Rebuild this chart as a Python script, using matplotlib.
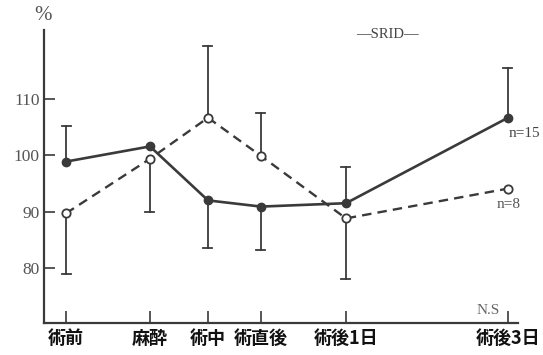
import numpy as np
import matplotlib
matplotlib.use("Agg")
import matplotlib.pyplot as plt

# Time points
categories = ["術前", "麻酔", "術中", "術直後", "術後1日", "術後3日"]

# n=15 group (solid line, filled markers)
solid_mean = [98.9, 101.6, 92.0, 90.9, 91.5, 106.7]
solid_sd_up = [6.3, 0, 0, 0, 6.4, 8.8]
solid_sd_down = [0, 0, 8.5, 7.8, 0, 0]

# n=8 group (dashed line, open markers)
dashed_mean = [89.7, 99.4, 106.7, 99.9, 88.8, 94.1]
dashed_sd_up = [0, 0, 12.8, 7.6, 0, 0]
dashed_sd_down = [10.8, 9.4, 0, 0, 10.8, 0]

yticks = [80, 90, 100, 110]

# horizontal placement of the time points (uneven time spacing)
xpos = np.array([66, 150, 208, 261, 346, 508])

W, H = 543, 355
fig = plt.figure(figsize=(W / 100, H / 100), dpi=100)
ax = fig.add_axes([44 / W, (H - 323) / H, (518 - 44) / W, (323 - 30) / H])
ax.set_xlim(44, 518)
ax.set_ylim(70.2, 122.3)

ink = "#3a3a3a"
serif = "Liberation Serif"
cjk = ["Noto Sans CJK JP", "DejaVu Sans"]


def bars(mean, up, down):
    for x, m, u, d in zip(xpos, mean, up, down):
        for e in (u, -d):
            if e:
                ax.plot([x, x], [m, m + e], color=ink, lw=1.3, zorder=2)
                ax.plot([x - 4.5, x + 4.5], [m + e, m + e], color=ink, lw=1.3, zorder=2)


bars(solid_mean, solid_sd_up, solid_sd_down)
bars(dashed_mean, dashed_sd_up, dashed_sd_down)

ax.plot(xpos, dashed_mean, ls=(0, (4, 2.6)), color=ink, lw=1.7,
        marker="o", ms=6, mfc="white", mec=ink, mew=1.3, zorder=3)
ax.plot(xpos, solid_mean, ls="-", color=ink, lw=1.9,
        marker="o", ms=6, mfc=ink, mec=ink, zorder=4)

for s in ("top", "right"):
    ax.spines[s].set_visible(False)
for s in ("left", "bottom"):
    ax.spines[s].set_color(ink)
    ax.spines[s].set_linewidth(1.6)

ax.set_yticks(yticks)
ax.set_yticklabels([str(v) for v in yticks], fontfamily=serif, fontsize=12.5, color="#555555")
ax.tick_params(axis="y", direction="in", length=8, width=1.2, color=ink, pad=3)

ax.set_xticks(xpos)
ax.set_xticklabels(categories, fontfamily=cjk, fontsize=13, fontweight="bold", color="#111111")
ax.tick_params(axis="x", direction="in", length=9, width=1.2, color=ink, pad=4)

fig.text(43 / W, 1 - 16 / H, "%", fontfamily=serif, fontsize=15, color="#555555", ha="center", va="center")
fig.text(387 / W, 1 - 34 / H, "—SRID—", fontfamily=serif, fontsize=10.5, color="#444444", ha="center", va="center")
fig.text(509 / W, 1 - 134 / H, "n=15", fontfamily=serif, fontsize=11, color="#444444", ha="left", va="center")
fig.text(497 / W, 1 - 204 / H, "n=8", fontfamily=serif, fontsize=11, color="#555555", ha="left", va="center")
fig.text(488 / W, 1 - 311 / H, "N.S", fontfamily=serif, fontsize=11, color="#666666", ha="center", va="center")

fig.savefig("out.png", dpi=100)
